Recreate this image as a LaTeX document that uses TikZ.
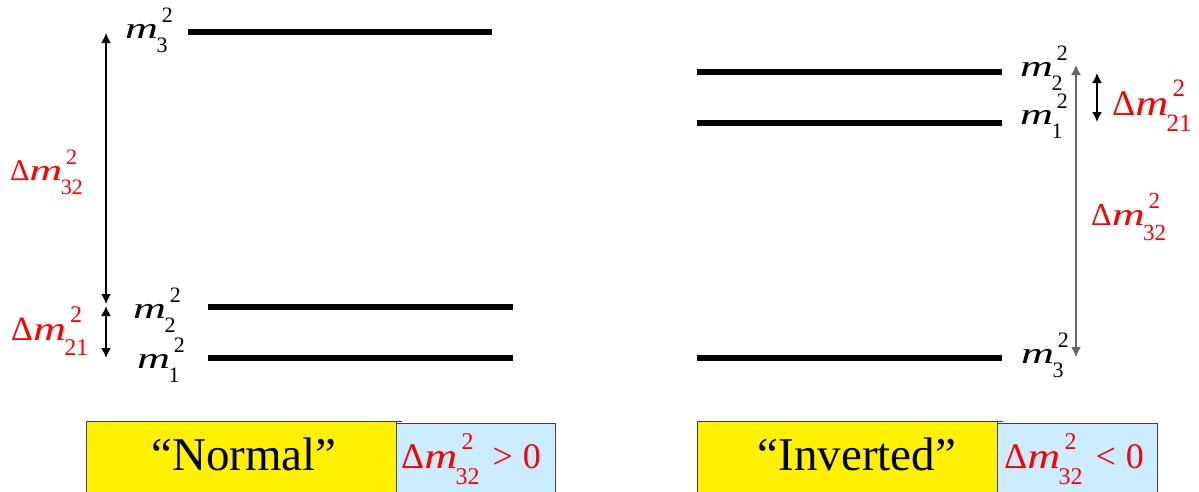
\documentclass[tikz,border=0pt]{standalone}
\usepackage{fontspec}
\setmainfont{Liberation Serif}
\usetikzlibrary{arrows.meta}
\definecolor{lblue}{HTML}{CCECFF}
\definecolor{myred}{HTML}{FF0000}
\definecolor{boxgray}{HTML}{404040}
\def\scrsize{20}
\newcommand{\scr}{\fontsize{\scrsize}{\scrsize}\selectfont}
\newcommand{\wideem}{\resizebox{33pt}{\height}{\textit{m}}}
\newcommand{\msq}[1]{\wideem\makebox[0pt][l]{\hspace{0.12em}\raisebox{0.52em}{\scr 2}}\kern-0.05em\raisebox{-0.47em}{\scr #1}}
\newcommand{\dmsq}[1]{Δ\msq{#1}}
\tikzset{
  level/.style={line width=6.5pt},
  tip/.tip={Latex[length=10pt,width=10pt]},
  arr/.style={line width=1.6pt,tip-tip},
  lab/.style n args={2}{font=\fontsize{#1}{#1}\selectfont\def\scrsize{#2}, inner sep=0pt, anchor=base west},
  dlab/.style n args={2}{lab={#1}{#2}, text=myred},
  boxtxt/.style={font=\fontsize{47}{50}\selectfont, inner sep=0pt, anchor=base},
  ybox/.style={draw=boxgray, line width=1pt, fill=yellow},
  bbox/.style={draw=boxgray, line width=1pt, fill=lblue}
}
\begin{document}
\begin{tikzpicture}[x=1pt,y=-1pt]
\useasboundingbox (0,0) rectangle (1199,491);
\clip (0,0) rectangle (1199,491);
% ---------- Normal ordering ----------
\coordinate (n3a) at (188,32);  \coordinate (n3b) at (492,32);
\coordinate (n2a) at (208,307); \coordinate (n2b) at (513,307);
\coordinate (n1a) at (208,358); \coordinate (n1b) at (513,358);
\draw[level] (n3a) -- (n3b);
\draw[level] (n2a) -- (n2b);
\draw[level] (n1a) -- (n1b);
\node[lab={30}{22}] (nm3) at (125,38) {\msq{3}};
\node[lab={30}{22}] (nm2) at (133,318) {\msq{2}};
\node[lab={30}{22}] (nm1) at (137,368) {\msq{1}};
\coordinate (na3) at (106,33);
\coordinate (na2a) at (106,304);
\coordinate (na2b) at (106,306);
\coordinate (na1) at (106,358);
\draw[arr] (na3) -- (na2a);
\draw[arr] (na2b) -- (na1);
\node[dlab={30}{22}] (nd32) at (10,180) {\dmsq{32}};
\node[dlab={34}{24}] (nd21) at (11,340) {\dmsq{21}};
% boxes
\path[bbox] (396,423) rectangle (555,500);
\path[ybox] (86,421) rectangle (396,500);
\draw[boxgray, line width=1pt] (396,421) -- (402,421);
\node[boxtxt] (normal) at (244,470) {“Normal”};
\node[dlab={36}{24}] (ngt) at (401,468) {\dmsq{32}\hspace{13pt}>\hspace{10pt}0};
% ---------- Inverted ordering ----------
\coordinate (i2a) at (697,72);  \coordinate (i2b) at (1002,72);
\coordinate (i1a) at (697,123); \coordinate (i1b) at (1002,123);
\coordinate (i3a) at (697,358); \coordinate (i3b) at (1002,358);
\draw[level] (i2a) -- (i2b);
\draw[level] (i1a) -- (i1b);
\draw[level] (i3a) -- (i3b);
\node[lab={30}{22}] (im2) at (1020,76) {\msq{2}};
\node[lab={30}{22}] (im1) at (1020,124) {\msq{1}};
\node[lab={30}{22}] (im3) at (1021,363) {\msq{3}};
\coordinate (ia2) at (1076,65);
\coordinate (ia3) at (1076,357);
\draw[arr, draw=black!60, fill=black!60] (ia2) -- (ia3);
\coordinate (ib2) at (1097,73);
\coordinate (ib1) at (1097,122);
\draw[arr] (ib2) -- (ib1);
\node[dlab={36}{25}] (id21) at (1112,115) {\dmsq{21}};
\node[dlab={32}{23}] (id32) at (1091,225) {\dmsq{32}};
\path[bbox] (997,423) rectangle (1157,500);
\path[ybox] (697,421) rectangle (997,500);
\draw[boxgray, line width=1pt] (997,421) -- (1003,421);
\node[boxtxt] (inverted) at (857,470) {“Inverted”};
\node[dlab={36}{24}] (ilt) at (1004,468) {\dmsq{32}\hspace{13pt}<\hspace{10pt}0};
\end{tikzpicture}
\end{document}
